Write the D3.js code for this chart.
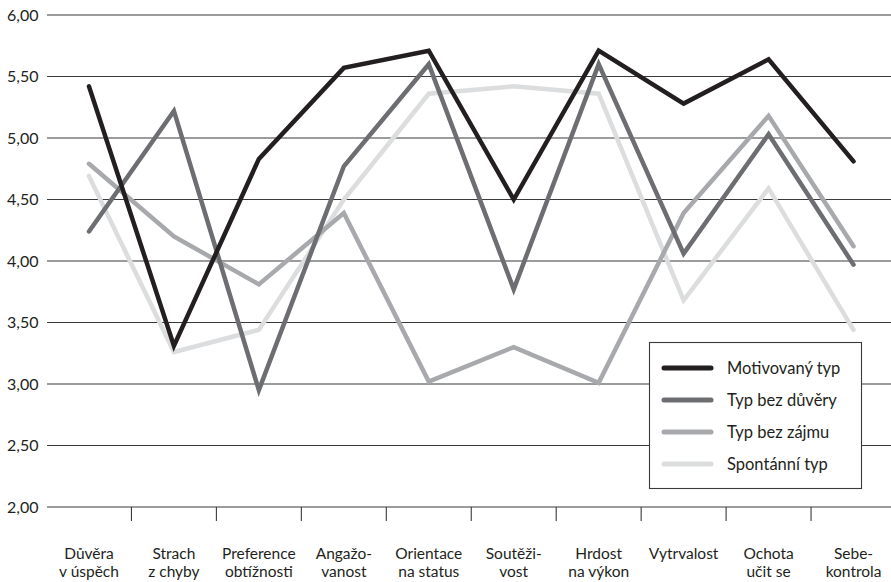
<!DOCTYPE html>
<html><head><meta charset="utf-8">
<script src="https://cdn.jsdelivr.net/npm/d3@7"></script>
<style>html,body{margin:0;padding:0;background:#fff;} svg{display:block;} text{font-family:Lato,"Open Sans",sans-serif;fill:#231f20;}</style>
</head><body>
<svg id="chart" width="891" height="582"></svg>
<script>
const categories = [["Důvěra","v úspěch"],["Strach","z chyby"],["Preference","obtížnosti"],["Angažo-","vanost"],["Orientace","na status"],["Soutěži-","vost"],["Hrdost","na výkon"],["Vytrvalost"],["Ochota","učit se"],["Sebe-","kontrola"]];
const seriesNames = ["Motivovaný typ","Typ bez důvěry","Typ bez zájmu","Spontánní typ"];
const motivovany = [5.42,3.31,4.83,5.57,5.71,4.50,5.71,5.28,5.64,4.81];
const bezDuvery  = [4.24,5.22,2.95,4.77,5.60,3.77,5.60,4.06,5.03,3.97];
const bezZajmu   = [4.79,4.20,3.81,4.39,3.02,3.30,3.01,4.39,5.18,4.12];
const spontanni  = [4.69,3.26,3.44,4.50,5.36,5.42,5.36,3.68,4.59,3.44];
const yTicks = [2,2.5,3,3.5,4,4.5,5,5.5,6];
const colors = ["#231f20","#6d6e71","#a7a9ac","#dcddde"];

const svg = d3.select("#chart");
const keys = categories.map((c,i)=>i);
const x = d3.scaleBand().domain(keys).range([46.5, 896]);
const y = d3.scaleLinear().domain([2,6]).range([507,15]);

// gridlines
svg.append("g").selectAll("line").data(yTicks).join("line")
  .attr("x1",47).attr("x2",891).attr("y1",d=>y(d)).attr("y2",d=>y(d))
  .attr("stroke","#3a3a3a").attr("stroke-width",1.1);
svg.append("g").selectAll("text").data(yTicks).join("text")
  .attr("x",38.5).attr("y",d=>y(d)).attr("dy","0.35em").attr("text-anchor","end")
  .attr("font-size",16).text(d=>d3.format(".2f")(d).replace(".",","));

// x tick marks between categories
svg.append("g").selectAll("line").data(keys.slice(1)).join("line")
  .attr("x1",d=>x(d)).attr("x2",d=>x(d)).attr("y1",507).attr("y2",521)
  .attr("stroke","#3a3a3a").attr("stroke-width",1.1);
// x labels (one text per line)
const xg = svg.append("g").selectAll("g").data(keys).join("g")
  .attr("transform",d=>`translate(${x(d)+x.bandwidth()/2},0)`);
xg.selectAll("text").data(d=>categories[d]).join("text")
  .attr("text-anchor","middle").attr("font-size",15.5)
  .attr("x",0).attr("y",(d,i)=>559+i*18).text(d=>d);

const data = [spontanni,bezZajmu,bezDuvery,motivovany];
const cols = [colors[3],colors[2],colors[1],colors[0]];
const line = d3.line().x((d,i)=>x(i)+x.bandwidth()/2).y(d=>y(d));
svg.append("g").selectAll("path").data(data).join("path")
  .attr("d",line).attr("fill","none").attr("stroke",(d,i)=>cols[i])
  .attr("stroke-width",4.5).attr("stroke-linejoin","miter").attr("stroke-linecap","round");

// legend
const lg = svg.append("g");
lg.append("rect").attr("x",649.5).attr("y",342.5).attr("width",212).attr("height",146)
  .attr("fill","#fff").attr("stroke","#3a3a3a").attr("stroke-width",1.1);
const items = lg.selectAll("g").data(seriesNames).join("g")
  .attr("transform",(d,i)=>`translate(0,${368+i*32})`);
items.append("line").attr("x1",664).attr("x2",711).attr("y1",0).attr("y2",0)
  .attr("stroke",(d,i)=>colors[i]).attr("stroke-width",5).attr("stroke-linecap","round");
items.append("text").attr("x",727).attr("y",0).attr("dy","0.35em").attr("font-size",16.5).text(d=>d);
</script>
</body></html>
